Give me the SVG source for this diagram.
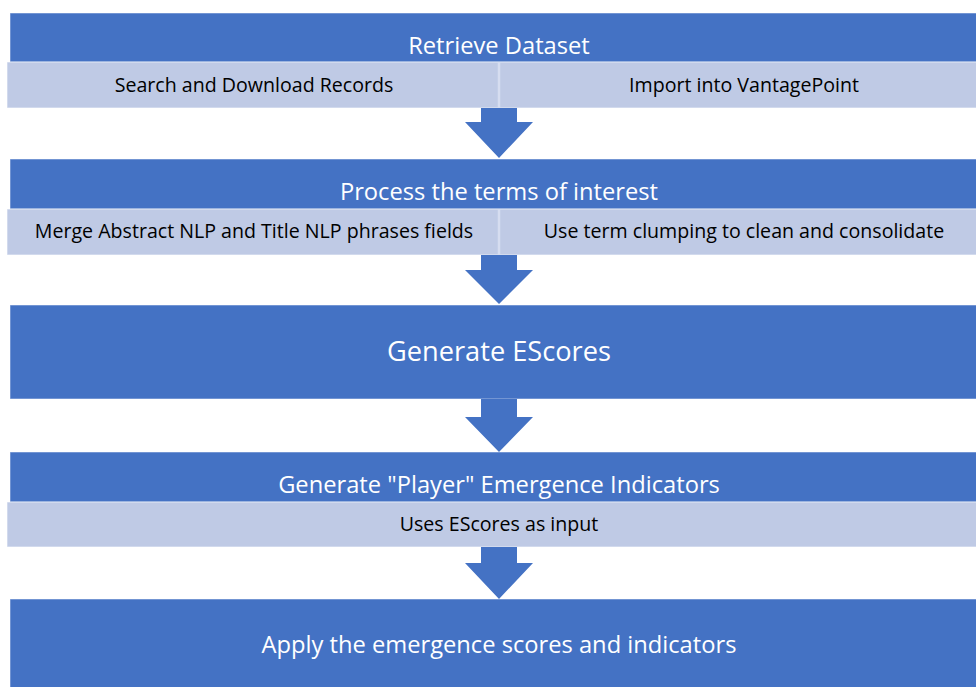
<svg xmlns="http://www.w3.org/2000/svg" width="976" height="687" viewBox="0 0 976 687">
<style>
.dark{fill:#4472C4;stroke:#ffffff;stroke-opacity:0.5;stroke-width:1}
.light{fill:#BFCAE5;stroke:#ffffff;stroke-opacity:0.6;stroke-width:1}
.div{stroke:#D6DDF0;stroke-width:2.5}
.arrow{fill:#4472C4}
.t{font-family:"Open Sans","Liberation Sans",sans-serif;text-anchor:middle}
.w{fill:#ffffff;font-size:23.7px}
.k{fill:#000000;font-size:19.6px}
</style>
<rect width="976" height="687" fill="#ffffff"/>
<g id="n1">
<rect class="dark" x="10" y="13" width="970" height="49"/>
<rect class="light" x="7" y="62" width="973" height="46"/>
<line class="div" x1="499" y1="62" x2="499" y2="108"/>
<text class="t w" x="499" y="54">Retrieve Dataset</text>
<text class="t k" x="254" y="92">Search and Download Records</text>
<text class="t k" x="744" y="92">Import into VantagePoint</text>
</g>
<g id="n2">
<rect class="dark" x="10" y="159" width="970" height="50"/>
<rect class="light" x="7" y="209" width="973" height="46"/>
<line class="div" x1="499" y1="209" x2="499" y2="255"/>
<text class="t w" x="499" y="200">Process the terms of interest</text>
<text class="t k" x="254" y="238">Merge Abstract NLP and Title NLP phrases fields</text>
<text class="t k" x="744" y="238">Use term clumping to clean and consolidate</text>
</g>
<g id="n3">
<rect class="dark" x="10" y="305" width="970" height="94"/>
<text class="t w" x="499" y="361" style="font-size:27.2px">Generate EScores</text>
</g>
<g id="n4">
<rect class="dark" x="10" y="452" width="970" height="50"/>
<rect class="light" x="7" y="502" width="973" height="45"/>
<text class="t w" x="499" y="493">Generate "Player" Emergence Indicators</text>
<text class="t k" x="499" y="531">Uses EScores as input</text>
</g>
<g id="n5">
<rect class="dark" x="10" y="599" width="970" height="92"/>
<text class="t w" x="499" y="653">Apply the emergence scores and indicators</text>
</g>
<g id="connectors">
<polygon class="arrow" points="481,108 517,108 517,122 533,122 499,158 465,122 481,122"/>
<polygon class="arrow" points="481,255 517,255 517,270 533,270 499,304 465,270 481,270"/>
<polygon class="arrow" points="481,399 517,399 517,417 533,417 499,452 465,417 481,417"/>
<polygon class="arrow" points="481,547 517,547 517,563 533,563 499,599 465,563 481,563"/>
</g>
</svg>
